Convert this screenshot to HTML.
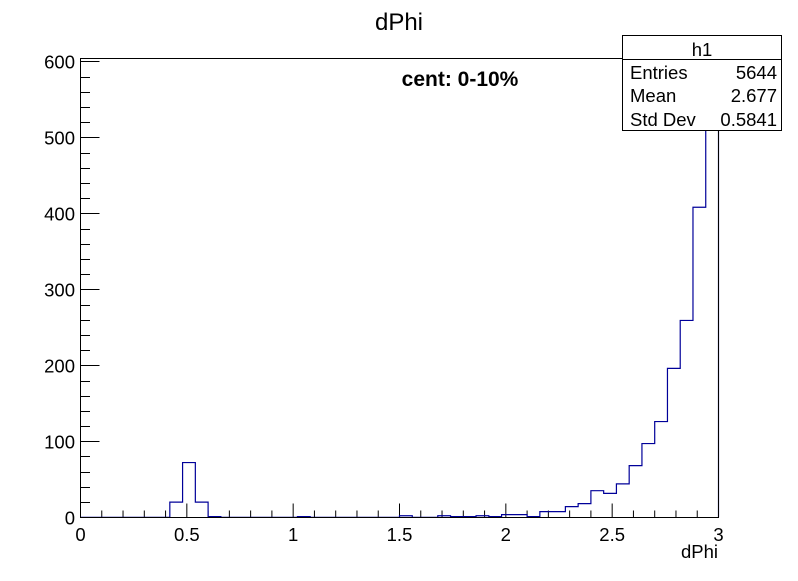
<!DOCTYPE html>
<html><head><meta charset="utf-8"><style>
body{margin:0;background:#fff;}
svg text{font-family:"Liberation Sans",sans-serif;}
</style></head><body>
<svg id="c" width="798" height="576" xmlns="http://www.w3.org/2000/svg">
<text x="399" y="30" font-size="24" text-anchor="middle">dPhi</text>
<text x="460" y="86" font-size="21" font-weight="bold" text-anchor="middle">cent: 0-10%</text>
<text x="718" y="558" font-size="18.5" text-anchor="end">dPhi</text>
<g id="axes"></g>
<g id="hist"></g>
<rect x="80.5" y="58.5" width="638" height="459" fill="none" stroke="#000" stroke-width="1"/>
<g>
<rect x="622.5" y="35.5" width="159" height="95" fill="#fff" stroke="#000"/>
<line x1="622.5" y1="59.5" x2="781.5" y2="59.5" stroke="#000"/>
<text x="702" y="56" font-size="18.5" text-anchor="middle">h1</text>
<text x="630" y="79" font-size="18.5">Entries</text><text x="777" y="79" font-size="18.5" text-anchor="end">5644</text>
<text x="630" y="102" font-size="18.5">Mean</text><text x="777" y="102" font-size="18.5" text-anchor="end">2.677</text>
<text x="630" y="126" font-size="18.5">Std Dev</text><text x="777" y="126" font-size="18.5" text-anchor="end">0.5841</text>
</g>
</svg>
<script>
const binLow = 0, binWidth = 0.06;
const counts = [0,0,0,0,0,0,0,20,72,20,1,0,0,0,0,0,0,1,0,0,0,0,0,0,0,2,0,0,2,1,1,2,1,3.5,3.5,1,7.5,7.5,14,18,35,31.5,44,68,97,126,196,259,408,4100];
const xTicks = [0,0.5,1,1.5,2,2.5,3];
const yTicks = [0,100,200,300,400,500,600];
const X0=80.5,X1=718.5,Y0=517.3,Y1=61.3;
const xs=v=>X0+(v-0)/3*(X1-X0);
const ys=v=>Y0-(v/600)*(Y0-Y1);
const NS="http://www.w3.org/2000/svg";
const ax=document.getElementById('axes');
function ln(x1,y1,x2,y2){const l=document.createElementNS(NS,'line');l.setAttribute('x1',x1);l.setAttribute('y1',y1);l.setAttribute('x2',x2);l.setAttribute('y2',y2);l.setAttribute('stroke','#000');ax.appendChild(l);return l;}
for(let i=0;i<=30;i++){const v=i*0.1;const x=xs(v);const maj=i%5===0;const t=ln(x,517.5,x,517.5-(maj?14:7));

}
xTicks.forEach(v=>{const t=document.createElementNS(NS,'text');t.setAttribute('x',xs(v));t.setAttribute('y',541);t.setAttribute('font-size','18.5');t.setAttribute('text-anchor','middle');t.textContent=String(v);


ax.appendChild(t);});
for(let v=0;v<=600;v+=20){const y=Math.round(ys(v))+0.5;const maj=v%100===0;const t=ln(80.5,y,80.5+(maj?19:9.5),y);

}
yTicks.forEach(v=>{const t=document.createElementNS(NS,'text');t.setAttribute('x',75);t.setAttribute('y',ys(v)+7);t.setAttribute('font-size','18.5');t.setAttribute('text-anchor','end');t.textContent=String(v);


ax.appendChild(t);});
const clip=v=>Math.max(ys(v),58.5);
let d='M'+xs(binLow)+' '+ys(0);
counts.forEach((c,i)=>{const a=xs(binLow+i*binWidth),b=xs(binLow+(i+1)*binWidth);const y=clip(c);d+=' L'+a+' '+y+' L'+b+' '+y;});
d+=' L'+xs(binLow+counts.length*binWidth)+' '+ys(0);
const p=document.createElementNS(NS,'path');p.setAttribute('d',d);p.setAttribute('fill','none');p.setAttribute('stroke','#000099');p.setAttribute('stroke-width','1.2');


document.getElementById('hist').appendChild(p);
</script>
</body></html>
